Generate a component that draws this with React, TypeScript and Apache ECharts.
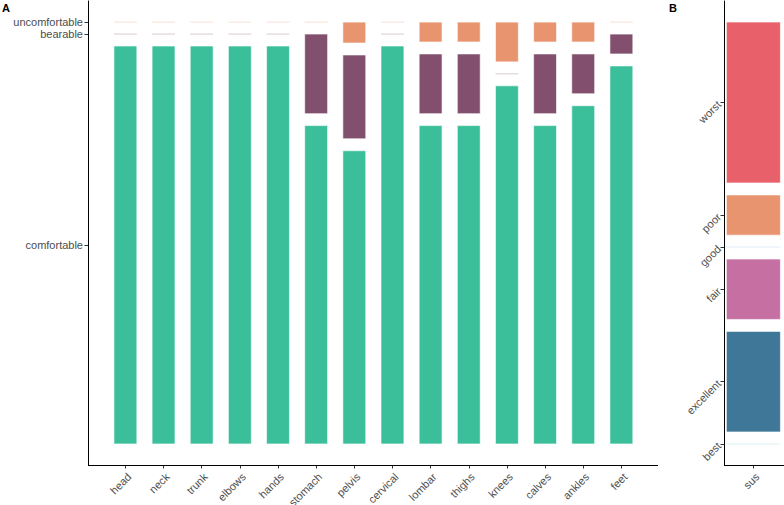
import React, { useEffect, useRef } from "react";
import * as echarts from "echarts";

// Panel A: comfort ratings per body part (respondent counts)
const bodyParts = [
  "head", "neck", "trunk", "elbows", "hands", "stomach", "pelvis",
  "cervical", "lombar", "thighs", "knees", "calves", "ankles", "feet",
];
const comfortLevels = ["comfortable", "bearable", "uncomfortable"];
const comfortableCounts = [20, 20, 20, 20, 20, 16, 14, 20, 16, 16, 18, 16, 17, 19];
const bearableCounts = [0, 0, 0, 0, 0, 4, 4, 0, 3, 3, 0, 3, 2, 1];
const uncomfortableCounts = [0, 0, 0, 0, 0, 0, 1, 0, 1, 1, 2, 1, 1, 0];

// Panel B: SUS adjective ratings (respondent counts)
const susGroups = ["sus"];
const susLevels = ["best", "excellent", "fair", "good", "poor", "worst"];
const susBest = [0];
const susExcellent = [5];
const susFair = [3];
const susGood = [0];
const susPoor = [2];
const susWorst = [8];

const comfortColors = ["#3BBF9A", "#82506E", "#E8956F"];
const susColors = ["#7FD3CF", "#3E7797", "#C66FA3", "#9DBFE0", "#E8956F", "#E8606A"];

const FONT = "Liberation Sans, Arial, sans-serif";
const TEXT_COLOR = "#4D4D4D";
// white gap between stacked segments, as a share of the full stack height
const GAP_SHARE = 0.0284;

// panel frames (px)
const PANEL_TOP = 1;
const PANEL_BOTTOM = 465;
const A_LEFT = 88;
const A_RIGHT = 658;
const B_LEFT = 724;
const B_RIGHT = 784;

type Seg = [number, number, number];

// proportional stack with a fixed gap between consecutive levels
function stackLayout(levels: number[][]) {
  const k = levels.length - 1;
  const gap = GAP_SHARE / (1 - GAP_SHARE * k);
  const total = 1 + k * gap;
  const nCats = levels[0].length;
  const segs: Seg[][] = levels.map(() => []);
  for (let i = 0; i < nCats; i++) {
    const n = levels.reduce((s, l) => s + l[i], 0);
    let cum = 0;
    levels.forEach((l, j) => {
      const p = l[i] / n;
      const y0 = cum + j * gap;
      segs[j].push([i, y0, y0 + p]);
      cum += p;
    });
  }
  // axis breaks sit at the middle of each segment of the first category
  const breaks = segs.map((s) => (s[0][1] + s[0][2]) / 2);
  return { segs, total, breaks };
}

const layoutA = stackLayout([comfortableCounts, bearableCounts, uncomfortableCounts]);
const layoutB = stackLayout([susBest, susExcellent, susFair, susGood, susPoor, susWorst]);

function makeRender(color: string, barWidth: number) {
  return (_params: any, api: any) => {
    const x = api.value(0);
    const bottom = api.coord([x, api.value(1)]);
    const top = api.coord([x, api.value(2)]);
    const w = api.size([barWidth, 0])[0];
    const h = bottom[1] - top[1];
    if (h < 0.5) {
      return {
        type: "rect",
        shape: { x: top[0] - w / 2, y: top[1] - 0.5, width: w, height: 1 },
        style: { fill: color, opacity: 0.3 },
      };
    }
    return {
      type: "rect",
      shape: { x: top[0] - w / 2, y: top[1], width: w, height: h },
      style: { fill: color, stroke: "#ffffff", lineWidth: 0.6 },
    };
  };
}

function nearestLabel(v: number, values: number[], labels: string[]) {
  let best = 0;
  values.forEach((b, i) => {
    if (Math.abs(b - v) < Math.abs(values[best] - v)) best = i;
  });
  return labels[best];
}

const labelStyle = { color: TEXT_COLOR, fontSize: 11, fontFamily: FONT };
const tick = () => ({ lineStyle: { color: "#333333", width: 1 }, length: 3.5 });
const yLine = () => ({ show: true, onZero: false, lineStyle: { color: "#000000", width: 1 } });
const baseLine = (x1: number, x2: number) => ({
  type: "line",
  z: 10,
  shape: { x1, y1: PANEL_BOTTOM + 0.5, x2, y2: PANEL_BOTTOM + 0.5 },
  style: { stroke: "#000000", lineWidth: 1 },
});

export default function App() {
  const ref = useRef<HTMLDivElement>(null);

  useEffect(() => {
    if (!ref.current) return;
    const chart = echarts.init(ref.current, undefined, { renderer: "svg" });
    const catIdx = bodyParts.map((_, i) => i);

    chart.setOption({
      animation: false,
      backgroundColor: "#ffffff",
      graphic: [
        { type: "text", left: 2, top: 2, style: { text: "A", font: `bold 11px ${FONT}`, fill: "#000" } },
        { type: "text", left: 669, top: 2, style: { text: "B", font: `bold 11px ${FONT}`, fill: "#000" } },
        baseLine(A_LEFT, A_RIGHT),
        baseLine(B_LEFT, B_RIGHT),
      ],
      grid: [
        {
          show: false,
          outerBoundsMode: "none",
          containLabel: false,
          left: A_LEFT,
          right: 784 - A_RIGHT,
          top: PANEL_TOP,
          bottom: 505 - PANEL_BOTTOM,
        },
        {
          show: false,
          outerBoundsMode: "none",
          containLabel: false,
          left: B_LEFT,
          right: 784 - B_RIGHT,
          top: PANEL_TOP,
          bottom: 505 - PANEL_BOTTOM,
        },
      ],
      xAxis: [
        {
          type: "value",
          gridIndex: 0,
          position: "bottom",
          min: -0.98,
          max: 13.96,
          splitLine: { show: false },
          axisLine: { show: false, onZero: false },
          axisTick: { show: true, customValues: catIdx, ...tick() },
          axisLabel: {
            ...labelStyle,
            rotate: 45,
            margin: 6,
            verticalAlign: "top",
            customValues: catIdx,
            formatter: (v: number) => bodyParts[Math.round(v)] ?? "",
          },
        },
        {
          type: "value",
          gridIndex: 1,
          position: "bottom",
          min: -0.49,
          max: 0.51,
          splitLine: { show: false },
          axisLine: { show: false, onZero: false },
          axisTick: { show: true, customValues: [0], ...tick() },
          axisLabel: {
            ...labelStyle,
            rotate: 45,
            margin: 6,
            verticalAlign: "top",
            customValues: [0],
            formatter: (v: number) => susGroups[Math.round(v)] ?? "",
          },
        },
      ],
      yAxis: [
        {
          type: "value",
          gridIndex: 0,
          position: "left",
          min: -0.05 * layoutA.total,
          max: 1.05 * layoutA.total,
          splitLine: { show: false },
          axisLine: yLine(),
          axisTick: { show: true, customValues: layoutA.breaks, ...tick() },
          axisLabel: {
            ...labelStyle,
            margin: 5,
            customValues: layoutA.breaks,
            formatter: (v: number) => nearestLabel(v, layoutA.breaks, comfortLevels),
          },
        },
        {
          type: "value",
          gridIndex: 1,
          position: "left",
          min: -0.05 * layoutB.total,
          max: 1.05 * layoutB.total,
          splitLine: { show: false },
          axisLine: yLine(),
          axisTick: { show: true, customValues: layoutB.breaks, ...tick() },
          axisLabel: {
            ...labelStyle,
            rotate: 45,
            margin: 5,
            customValues: layoutB.breaks,
            formatter: (v: number) => nearestLabel(v, layoutB.breaks, susLevels),
          },
        },
      ],
      series: [
        ...comfortLevels.map((name, j) => ({
          type: "custom",
          name,
          xAxisIndex: 0,
          yAxisIndex: 0,
          data: layoutA.segs[j],
          encode: { x: 0, y: [1, 2] },
          renderItem: makeRender(comfortColors[j], 0.6),
        })),
        ...susLevels.map((name, j) => ({
          type: "custom",
          name,
          xAxisIndex: 1,
          yAxisIndex: 1,
          data: layoutB.segs[j],
          encode: { x: 0, y: [1, 2] },
          renderItem: makeRender(susColors[j], 0.9),
        })),
      ],
    });

    return () => chart.dispose();
  }, []);

  return (
    <div
      ref={ref}
      style={{ position: "fixed", left: 0, top: 0, width: 784, height: 505, background: "#fff" }}
    />
  );
}
